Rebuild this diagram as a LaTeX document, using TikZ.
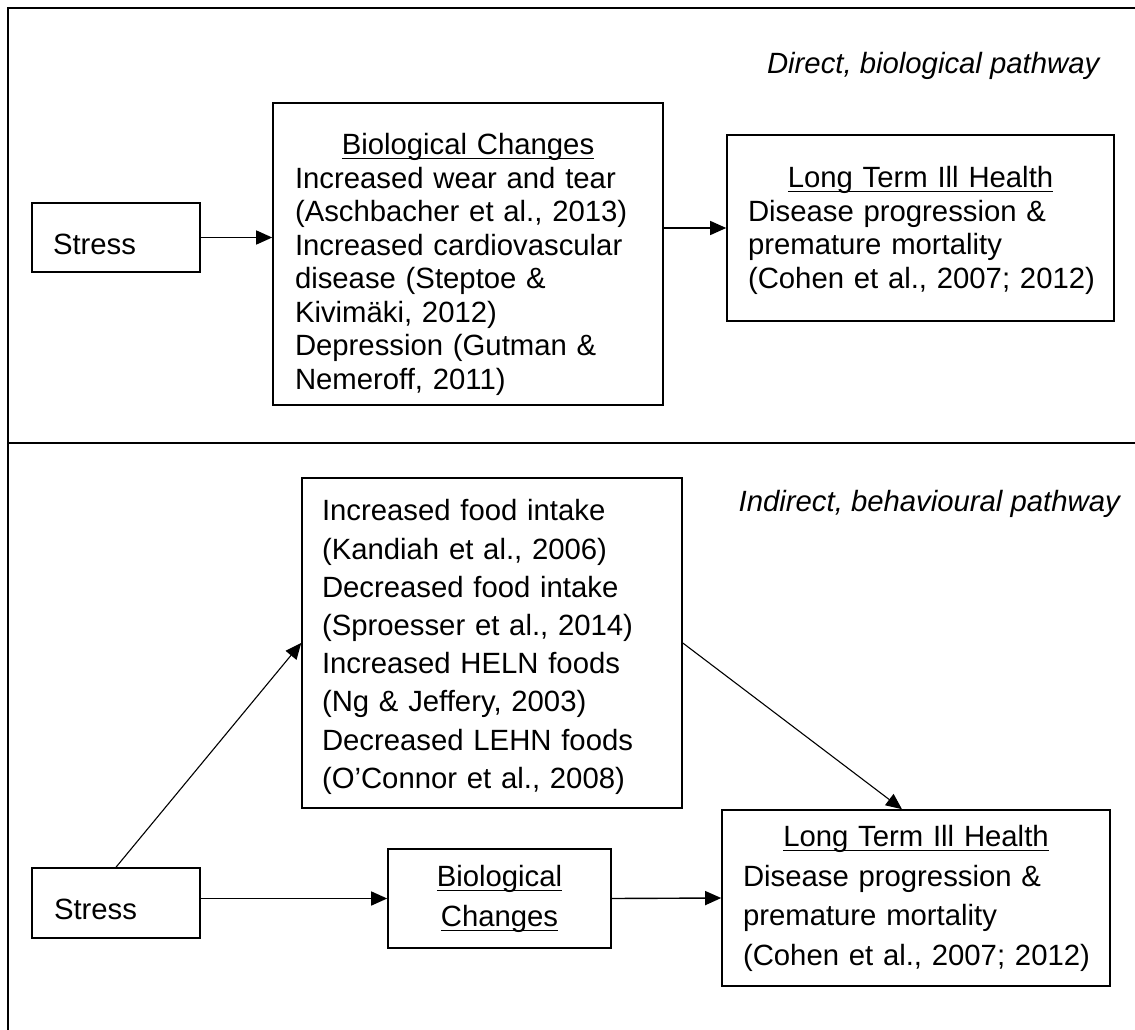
\documentclass[tikz,border=0pt]{standalone}
\usepackage{fontspec}
\setmainfont{Liberation Sans}
\usetikzlibrary{arrows.meta}

\newcommand{\ulin}[1]{\setbox0\hbox{#1}\rlap{\rule[-4.5pt]{\wd0}{1.5pt}}\box0}

\tikzset{
	box/.style={draw,line width=1.6pt,inner ysep=0pt,align=left},
	narrowsp/.style={font=\fontsize{29.3}{33.5}\selectfont},
	widesp/.style={font=\fontsize{29.3}{39.5}\selectfont},
	pathlabel/.style={inner sep=0pt,font=\fontsize{29.3}{33.5}\selectfont\itshape}
}

\begin{document}
\begin{tikzpicture}[->,>={Triangle[length=16pt,width=14pt]},x=1pt,y=-1pt,
	line width=1.4pt]
	\useasboundingbox (0,0) rectangle (1135,1030);
	
	% frame
	\draw[-,line width=1.6pt] (8,1030) -- (8,8) -- (1135,8);
	\draw[-,line width=1.6pt] (8,443) -- (1135,443);
	
	% direct pathway
	\node[pathlabel,anchor=base east](D1) at (1100,73.5){Direct, biological pathway};
	\node[box,narrowsp,text width=126pt,inner xsep=21pt,minimum height=69pt,
		text height=34pt](S1) at (116,237.5){Stress};
	\node[box,narrowsp,text width=346pt,inner xsep=22pt,minimum height=302pt,
		text height=42.4pt](B1) at (468,254){\makebox[\linewidth]{\ulin{Biological Changes}}\\
		Increased wear and tear\\
		(Aschbacher et al., 2013)\\
		Increased cardiovascular\\
		disease (Steptoe \&\\
		Kivimäki, 2012)\\
		Depression (Gutman \&\\
		Nemeroff, 2011)};
	\node[box,narrowsp,text width=345pt,inner xsep=21pt,minimum height=186pt,
		text height=26.4pt](L1) at (920.5,228){\makebox[\linewidth]{\ulin{Long Term Ill Health}}\\
		Disease progression \&\\
		premature mortality\\
		\mbox{(Cohen et al., 2007; 2012)}};
	
	\path (S1.east) edge (S1.east -| B1.west)
	      (L1.west -| B1.east) edge (L1.west);
	
	% indirect pathway
	\node[pathlabel,anchor=base west](D2) at (738,511){Indirect, behavioural pathway};
	\node[box,font=\fontsize{29.3}{38.2}\selectfont,text width=340pt,inner xsep=20pt,
		minimum height=330pt,text height=29.3pt](F2) at (492,643){Increased food intake\\
		(Kandiah et al., 2006)\\
		Decreased food intake\\
		(Sproesser et al., 2014)\\
		Increased HELN foods\\
		(Ng \& Jeffery, 2003)\\
		Decreased LEHN foods\\
		(O’Connor et al., 2008)};
	\node[box,narrowsp,text width=124pt,inner xsep=22pt,minimum height=70pt,
		text height=34pt](S2) at (116,903){Stress};
	\node[box,font=\fontsize{29.3}{40}\selectfont,text width=203pt,inner xsep=10pt,
		minimum height=99pt,text height=22.9pt](B2) at (499.5,898.5){\makebox[\linewidth]{\ulin{Biological}}\\
		\makebox[\linewidth]{\ulin{Changes}}};
	\node[box,widesp,text width=346pt,inner xsep=21pt,minimum height=176pt,
		text height=22.4pt](L2) at (916,898){\makebox[\linewidth]{\ulin{Long Term Ill Health}}\\
		Disease progression \&\\
		premature mortality\\
		\mbox{(Cohen et al., 2007; 2012)}};
	
	\path (B2.west -| S2.east) edge (B2.west)
	      (B2.east) edge (L2.west);
	\path[line width=1.1pt] (S2.north) edge (F2.west)
	      (F2.east) edge ([xshift=-14pt]L2.north);
\end{tikzpicture}
\end{document}
